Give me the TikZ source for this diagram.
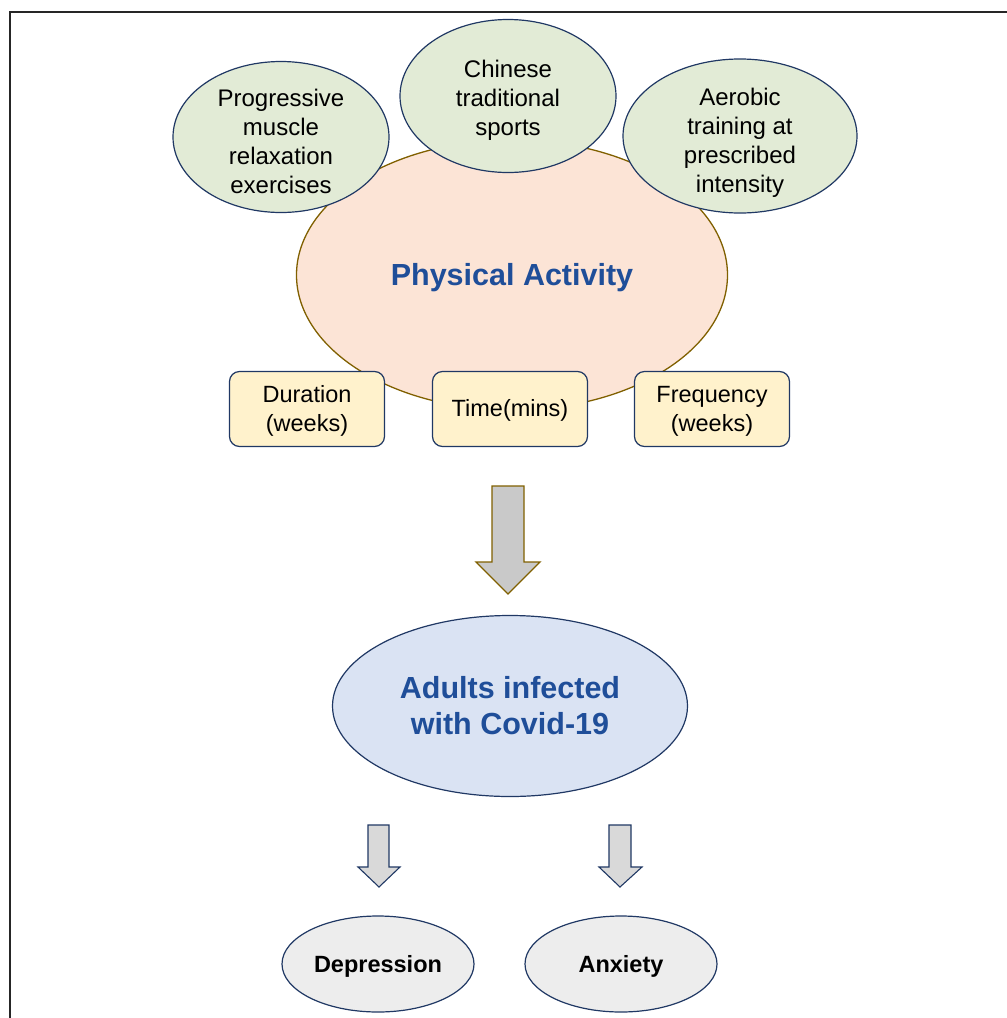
\documentclass[tikz,border=0pt]{standalone}
\usepackage{fontspec}
\setmainfont{Liberation Sans}
\usetikzlibrary{shapes.geometric}
\definecolor{salmon}{HTML}{FCE4D6}
\definecolor{brownln}{HTML}{806000}
\definecolor{greenfill}{HTML}{E2EBD6}
\definecolor{navy}{HTML}{203864}
\definecolor{boxfill}{HTML}{FFF2CC}
\definecolor{bluefill}{HTML}{DAE3F3}
\definecolor{textblue}{HTML}{1F4E99}
\definecolor{grayfill}{HTML}{C9C9C9}
\definecolor{lightgray}{HTML}{D9D9D9}
\definecolor{outfill}{HTML}{EDEDED}
\tikzset{
  greenell/.style={ellipse, draw=navy, line width=1.2pt, fill=greenfill, inner sep=0pt},
  greentext/.style={inner sep=0pt, align=center, font=\fontsize{24}{29}\selectfont, text=black},
  factorbox/.style={rectangle, rounded corners=10pt, draw=navy, line width=1.2pt, fill=boxfill,
    minimum width=155pt, minimum height=75pt, inner sep=0pt},
  boxtext/.style={inner sep=0pt, align=center, font=\fontsize{23.5}{29}\selectfont},
  outell/.style={ellipse, draw=navy, line width=1.2pt, fill=outfill, inner sep=0pt,
    minimum width=192pt, minimum height=96pt},
  outtext/.style={inner sep=0pt, font=\fontsize{23.5}{28}\selectfont\bfseries},
  bigarrow/.style={draw=brownln, line width=1.3pt, fill=grayfill, line join=miter},
  smallarrow/.style={draw=navy, line width=1.1pt, fill=lightgray, line join=miter},
}
\begin{document}
\begin{tikzpicture}[x=1pt,y=-1pt]
\useasboundingbox (0,0) rectangle (1007,1018);
% frame
\draw[line width=2.5pt, black!85] (10,1020) -- (10,12) -- (1010,12);
% main ellipse
\node[ellipse, draw=brownln, line width=1.3pt, fill=salmon, minimum width=431pt, minimum height=270pt,
  inner sep=0pt] (pa) at (512,275) {};
\node[inner sep=0pt, text=textblue, font=\fontsize{30.5}{36}\selectfont\bfseries] (pa-t)
  at ([yshift=-3pt]pa.center) {Physical Activity};
% green ellipses
\node[greenell, minimum width=216pt, minimum height=151pt] (pmr) at (281,137) {};
\node[greentext] (pmr-t) at ([yshift=-4pt]pmr.center) {Progressive\\muscle\\relaxation\\exercises};
\node[greenell, minimum width=216pt, minimum height=153pt] (cts) at (508,96) {};
\node[greentext] (cts-t) at ([yshift=-4pt]cts.center) {Chinese\\traditional\\sports};
\node[greenell, minimum width=234pt, minimum height=154pt] (aer) at (740,136) {};
\node[greentext] (aer-t) at ([yshift=-7pt]aer.center) {Aerobic\\training at\\prescribed\\intensity};
% boxes
\node[factorbox] (dur) at (307,409) {};
\node[boxtext] (dur-t) at ([yshift=-2pt]dur.center) {Duration\\(weeks)};
\node[factorbox] (tim) at (510,409) {};
\node[boxtext] (tim-t) at ([yshift=-1pt]tim.center) {Time(mins)};
\node[factorbox] (fre) at (712,409) {};
\node[boxtext] (fre-t) at ([yshift=-2pt]fre.center) {Frequency\\(weeks)};
% big arrow
\draw[bigarrow] (492,486) -- (524,486) -- (524,562) -- (540,562) -- (508,594) -- (476,562) -- (492,562) -- cycle;
% adults
\node[ellipse, draw=navy, line width=1.2pt, fill=bluefill, minimum width=355pt, minimum height=181pt,
  inner sep=0pt, align=center, text=textblue, font=\fontsize{30.5}{36}\selectfont\bfseries] (adu) at (510,706)
  {Adults infected\\with Covid-19};
% small arrows
\draw[smallarrow] (368,825) -- (389,825) -- (389,867) -- (400,867) -- (379,887) -- (358,867) -- (368,867) -- cycle;
\draw[smallarrow] (609,825) -- (631,825) -- (631,867) -- (642,867) -- (620,887) -- (599,867) -- (609,867) -- cycle;
% outcomes
\node[outell] (dep) at (378,964) {};
\node[outtext] (dep-t) at ([yshift=-2pt]dep.center) {Depression};
\node[outell] (anx) at (621,964) {};
\node[outtext] (anx-t) at ([yshift=-2pt]anx.center) {Anxiety};
\end{tikzpicture}
\end{document}
